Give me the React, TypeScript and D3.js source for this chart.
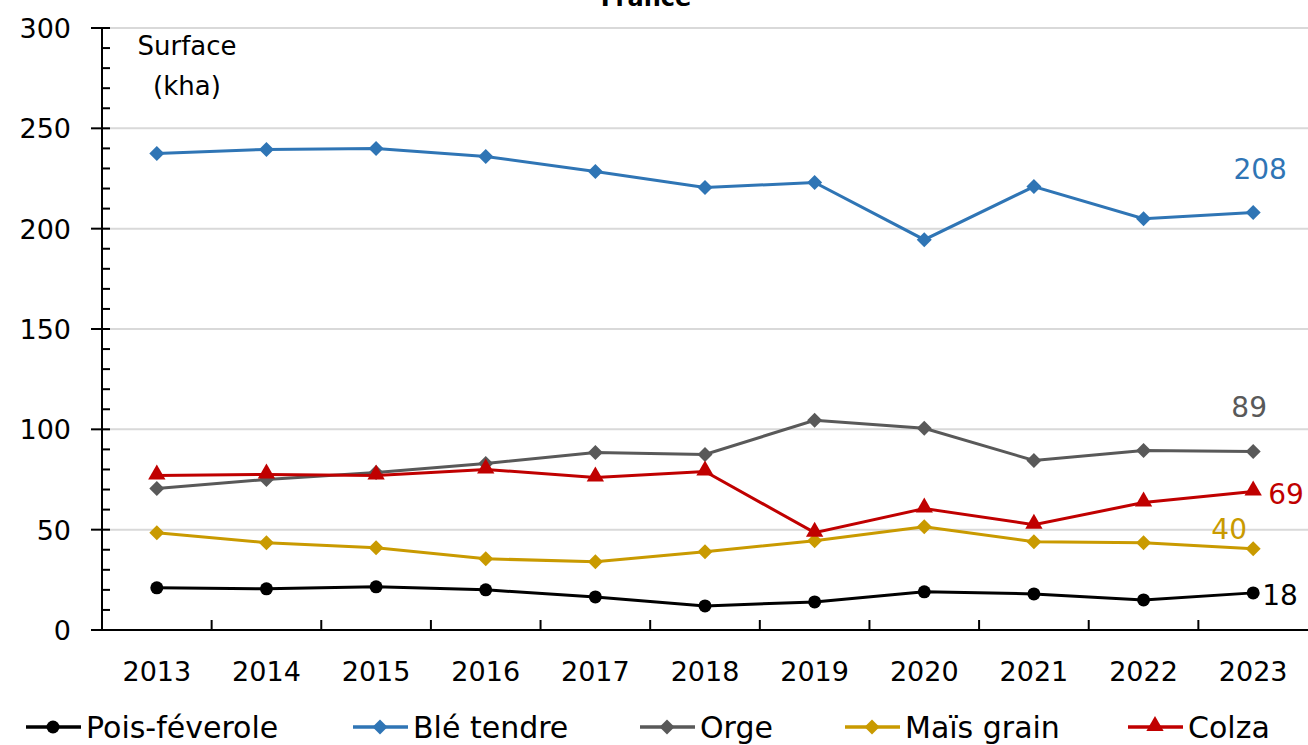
import React from 'react';
import * as d3 from 'd3';

const years = ['2013', '2014', '2015', '2016', '2017', '2018', '2019', '2020', '2021', '2022', '2023'];
const bleTendre = [237.5, 239.5, 240, 236, 228.5, 220.5, 223, 194.5, 221, 205, 208];
const orge = [70.5, 75, 78.5, 83, 88.5, 87.5, 104.5, 100.5, 84.5, 89.5, 89];
const colza = [77, 77.5, 77, 80, 76, 79, 48.5, 60.5, 52.5, 63.5, 69];
const maisGrain = [48.5, 43.5, 41, 35.5, 34, 39, 44.5, 51.5, 44, 43.5, 40.5];
const poisFeverole = [21, 20.5, 21.5, 20, 16.5, 12, 14, 19, 18, 15, 18.5];
const yTicks = [0, 50, 100, 150, 200, 250, 300];

const series = [
  { name: 'Pois-féverole', values: poisFeverole, color: '#000000', marker: 'circle', label: '18' },
  { name: 'Blé tendre', values: bleTendre, color: '#2f75b5', marker: 'diamond', label: '208' },
  { name: 'Orge', values: orge, color: '#595959', marker: 'diamond', label: '89' },
  { name: 'Maïs grain', values: maisGrain, color: '#c99a00', marker: 'diamond', label: '40' },
  { name: 'Colza', values: colza, color: '#c00000', marker: 'triangle', label: '69' },
];

const FONT = '"DejaVu Sans", sans-serif';
const W = 1308;
const H = 745;
const left = 102;
const right = 1308;
const top = 28;
const bottom = 630;

const x = d3.scaleBand<string>().domain(years).range([left, right]);
const y = d3.scaleLinear().domain([0, 300]).range([bottom, top]);
const cx = (yr: string) => (x(yr) as number) + x.bandwidth() / 2;

function Marker({ type, px, py, color }: { type: string; px: number; py: number; color: string }) {
  if (type === 'circle') return <circle cx={px} cy={py} r={6.5} fill={color} />;
  if (type === 'triangle') {
    const p = d3.symbol().type(d3.symbolTriangle).size(130)();
    return <path d={p || ''} transform={`translate(${px},${py - 1})`} fill={color} />;
  }
  const s = 7.5;
  return <path d={`M${px},${py - s}L${px + s},${py}L${px},${py + s}L${px - s},${py}Z`} fill={color} />;
}

// end labels: offsets relative to the last point
const labelPos: Record<string, { dx: number; dy: number; anchor: string }> = {
  '208': { dx: 7, dy: -34, anchor: 'middle' },
  '89': { dx: -4, dy: -34, anchor: 'middle' },
  '69': { dx: 15, dy: 12, anchor: 'start' },
  '40': { dx: -24, dy: -10, anchor: 'middle' },
  '18': { dx: 9, dy: 12, anchor: 'start' },
};

const legendX = [26, 353, 640, 845, 1128];

export default function App() {
  const line = d3
    .line<number>()
    .x((_, i) => cx(years[i]))
    .y((d) => y(d));
  const minorTicks = d3.range(0, 301, 10).filter((v) => v % 50 !== 0);
  const last = years[years.length - 1];

  return (
    <svg width={W} height={H} style={{ position: 'absolute', left: 0, top: 0 }} fontFamily={FONT}>
      <rect width={W} height={H} fill="#fff" />
      <text x={646} y={6} textAnchor="middle" fontSize={24} fontWeight="bold">France</text>

      {yTicks.filter((t) => t > 0).map((t) => (
        <line key={t} x1={left} x2={right} y1={y(t)} y2={y(t)} stroke="#d9d9d9" strokeWidth={2} />
      ))}

      {/* y axis */}
      <line x1={left} x2={left} y1={top} y2={bottom} stroke="#000" strokeWidth={2} />
      {yTicks.map((t) => (
        <g key={t}>
          <line x1={left - 11} x2={left + 8} y1={y(t)} y2={y(t)} stroke="#000" strokeWidth={2} />
          <text x={71} y={y(t) + 10} textAnchor="end" fontSize={27}>{t}</text>
        </g>
      ))}
      {minorTicks.map((t) => (
        <line key={t} x1={left} x2={left + 8} y1={y(t)} y2={y(t)} stroke="#000" strokeWidth={2} />
      ))}

      {/* x axis */}
      <line x1={left - 11} x2={right} y1={bottom} y2={bottom} stroke="#000" strokeWidth={2} />
      {years.slice(1).map((yr) => (
        <line key={yr} x1={x(yr)} x2={x(yr)} y1={bottom} y2={bottom - 10} stroke="#000" strokeWidth={2} />
      ))}
      {years.map((yr) => (
        <text key={yr} x={cx(yr)} y={681} textAnchor="middle" fontSize={27}>{yr}</text>
      ))}

      <text x={187} y={55} textAnchor="middle" fontSize={26}>Surface</text>
      <text x={187} y={95} textAnchor="middle" fontSize={26}>(kha)</text>

      {series.map((s) => (
        <g key={s.name}>
          <path d={line(s.values) || ''} fill="none" stroke={s.color} strokeWidth={3} />
          {s.values.map((v, i) => (
            <Marker key={i} type={s.marker} px={cx(years[i])} py={y(v)} color={s.color} />
          ))}
          <text
            x={cx(last) + labelPos[s.label].dx}
            y={y(s.values[s.values.length - 1]) + labelPos[s.label].dy}
            textAnchor={labelPos[s.label].anchor as any}
            fontSize={28}
            fill={s.color}
          >
            {s.label}
          </text>
        </g>
      ))}

      {/* legend */}
      {series.map((s, i) => (
        <g key={s.name}>
          <line x1={legendX[i]} x2={legendX[i] + 55} y1={727} y2={727} stroke={s.color} strokeWidth={3.5} />
          <Marker type={s.marker} px={legendX[i] + 27} py={727} color={s.color} />
          <text x={legendX[i] + 60} y={738} fontSize={30}>{s.name}</text>
        </g>
      ))}
    </svg>
  );
}
